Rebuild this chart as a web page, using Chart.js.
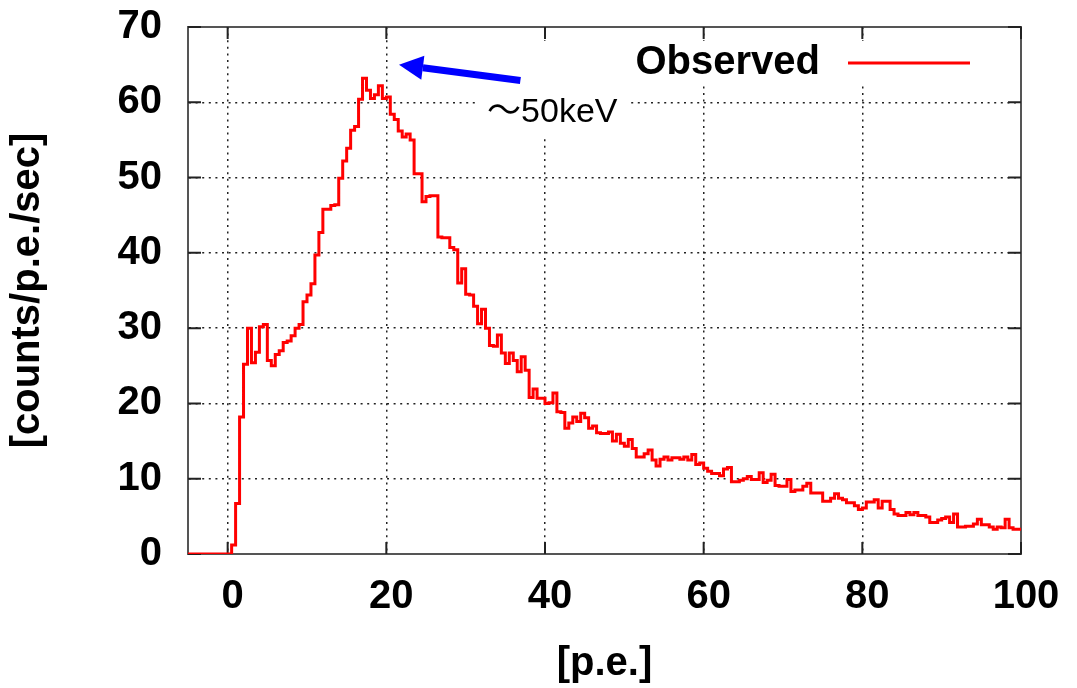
<!DOCTYPE html>
<html>
<head>
<meta charset="utf-8">
<script src="https://cdn.jsdelivr.net/npm/chart.js@4.4.0/dist/chart.umd.min.js"></script>
<style>
  body { margin: 0; background: #fff; }
</style>
</head>
<body>
<canvas id="spectrum" width="1077" height="688"></canvas>
<script>
// histogram bins are 0.5 p.e. wide, the first one starts at -5
const binStart = -5
const binWidth = 0.5
const counts = [
  // -5.0 .. -0.5
  0, 0, 0, 0, 0, 0, 0, 0, 0, 0,
  // 0.0 .. 4.5
  0, 1.2, 6.7, 18.2, 25.2, 30.0, 25.4, 26.8, 30.2, 30.5,
  // 5.0 .. 9.5
  25.7, 25.0, 26.5, 27.0, 28.1, 28.3, 29.0, 30.0, 30.5, 33.5,
  // 10.0 .. 14.5
  34.4, 35.9, 39.7, 42.7, 45.8, 45.8, 46.3, 46.4, 49.9, 52.2,
  // 15.0 .. 19.5
  53.9, 56.3, 56.8, 60.4, 63.2, 61.6, 60.5, 61.0, 62.2, 60.5,
  // 20.0 .. 24.5
  60.7, 58.4, 57.7, 56.2, 55.4, 55.8, 55.0, 50.5, 50.5, 46.8,
  // 25.0 .. 29.5
  47.5, 47.6, 47.6, 42.1, 42.0, 42.0, 40.7, 40.4, 36.0, 37.9,
  // 30.0 .. 34.5
  34.5, 34.4, 32.9, 30.6, 32.5, 30.0, 27.7, 27.6, 29.1, 26.7,
  // 35.0 .. 39.5
  25.3, 26.7, 25.7, 24.2, 26.2, 24.4, 20.8, 21.9, 20.7, 20.7,
  // 40.0 .. 44.5
  20.0, 20.1, 21.4, 18.9, 18.8, 16.7, 17.4, 18.2, 17.6, 18.7,
  // 45.0 .. 49.5
  18.1, 16.7, 17.0, 16.1, 16.0, 16.0, 16.2, 15.0, 15.9, 14.7,
  // 50.0 .. 54.5
  14.3, 15.2, 14.0, 12.9, 12.9, 13.3, 13.8, 12.5, 11.7, 12.6,
  // 55.0 .. 59.5
  12.9, 12.5, 12.8, 12.8, 12.6, 12.9, 12.5, 13.2, 11.9, 12.1,
  // 60.0 .. 64.5
  11.4, 11.0, 10.7, 10.7, 10.4, 11.3, 11.5, 9.6, 9.6, 9.8,
  // 65.0 .. 69.5
  10.0, 10.3, 9.9, 9.9, 10.8, 9.5, 9.8, 10.6, 9.1, 9.0,
  // 70.0 .. 74.5
  9.0, 9.9, 8.3, 8.5, 8.5, 9.0, 9.4, 8.1, 8.1, 8.1,
  // 75.0 .. 79.5
  7.0, 7.0, 7.4, 8.0, 7.4, 7.2, 6.8, 6.8, 6.4, 5.9,
  // 80.0 .. 84.5
  6.1, 6.9, 6.9, 7.2, 6.1, 7.0, 7.0, 5.9, 5.3, 5.1,
  // 85.0 .. 89.5
  5.1, 5.5, 5.2, 5.5, 5.1, 5.1, 4.9, 4.2, 4.2, 4.5,
  // 90.0 .. 94.5
  4.7, 4.9, 4.2, 5.3, 3.6, 3.6, 3.7, 3.7, 4.0, 4.6,
  // 95.0 .. 99.5
  3.9, 3.9, 3.6, 3.3, 3.6, 3.5, 4.6, 3.5, 3.3, 3.3
]
const xTicks = [0, 20, 40, 60, 80, 100]
const yTicks = [0, 10, 20, 30, 40, 50, 60, 70]

// the "~50keV" arrow, in data units
const arrowFrom = { x: 36.9, y: 62.9 }
const arrowTo = { x: 21.6, y: 65.0 }
const peakLabel = { text: '～50keV', x: 32.7, y: 58.6 }

const points = counts.map((c, i) => ({ x: binStart + i * binWidth, y: c }))
points.push({ x: binStart + counts.length * binWidth, y: counts[counts.length - 1] })

const boldFont = { family: '"Liberation Sans", Arial, sans-serif', size: 40, weight: 'bold', lineHeight: 1.2 }

const decorations = {
  id: 'decorations',
  beforeDatasetsDraw(chart) {
    const { ctx, chartArea: a, scales: { x, y } } = chart
    ctx.save()
    // opaque key and label boxes hide the grid dots behind them
    ctx.fillStyle = '#fff'
    ctx.fillRect(a.right - 391, a.top + 14, 355, 44)
    ctx.fillRect(x.getPixelForValue(31.5), a.top + 14, 152, 97)

    // frame on all four sides
    ctx.strokeStyle = '#555'
    ctx.lineWidth = 2
    ctx.strokeRect(a.left, a.top, a.right - a.left, a.bottom - a.top)

    // tick marks pointing inward
    ctx.beginPath()
    xTicks.forEach(v => {
      const px = x.getPixelForValue(v)
      ctx.moveTo(px, a.bottom); ctx.lineTo(px, a.bottom - 12)
      ctx.moveTo(px, a.top); ctx.lineTo(px, a.top + 12)
    })
    yTicks.forEach(v => {
      const py = y.getPixelForValue(v)
      ctx.moveTo(a.left, py); ctx.lineTo(a.left + 13, py)
      ctx.moveTo(a.right, py); ctx.lineTo(a.right - 13, py)
    })
    ctx.strokeStyle = '#222'
    ctx.stroke()
    ctx.restore()
  },
  afterDraw(chart) {
    const { ctx, chartArea: a, scales: { x, y } } = chart
    const ds = chart.data.datasets[0]
    ctx.save()

    // key: label first, sample line after it
    const keyY = a.top + 36
    ctx.font = 'bold 40px "Liberation Sans", Arial, sans-serif'
    ctx.fillStyle = '#000'
    ctx.textAlign = 'right'
    ctx.textBaseline = 'middle'
    ctx.fillText(ds.label, a.right - 201, keyY)
    ctx.strokeStyle = ds.borderColor
    ctx.lineWidth = 3
    ctx.beginPath()
    ctx.moveTo(a.right - 173, keyY)
    ctx.lineTo(a.right - 51, keyY)
    ctx.stroke()

    // arrow pointing at the peak
    const x0 = x.getPixelForValue(arrowFrom.x), y0 = y.getPixelForValue(arrowFrom.y)
    const x1 = x.getPixelForValue(arrowTo.x), y1 = y.getPixelForValue(arrowTo.y)
    const ang = Math.atan2(y1 - y0, x1 - x0)
    const headLen = 24, headHalf = 12
    const bx = x1 - headLen * Math.cos(ang), by = y1 - headLen * Math.sin(ang)
    ctx.strokeStyle = '#0000ff'
    ctx.fillStyle = '#0000ff'
    ctx.lineWidth = 7
    ctx.beginPath()
    ctx.moveTo(x0, y0)
    ctx.lineTo(bx, by)
    ctx.stroke()
    ctx.beginPath()
    ctx.moveTo(x1, y1)
    ctx.lineTo(bx + headHalf * Math.sin(ang), by - headHalf * Math.cos(ang))
    ctx.lineTo(bx - headHalf * Math.sin(ang), by + headHalf * Math.cos(ang))
    ctx.closePath()
    ctx.fill()

    ctx.font = '34px "Liberation Sans", "Noto Sans CJK JP", sans-serif'
    ctx.fillStyle = '#000'
    ctx.textAlign = 'left'
    ctx.textBaseline = 'middle'
    ctx.fillText(peakLabel.text, x.getPixelForValue(peakLabel.x), y.getPixelForValue(peakLabel.y))
    ctx.restore()
  }
}

new Chart(document.getElementById('spectrum').getContext('2d'), {
  type: 'line',
  data: {
    datasets: [{
      label: 'Observed',
      data: points,
      borderColor: '#ff0000',
      borderWidth: 3,
      pointRadius: 0,
      stepped: true,
      fill: false
    }]
  },
  options: {
    responsive: false,
    animation: false,
    layout: { padding: { top: 27, right: 56, left: 0, bottom: 0 } },
    plugins: { legend: { display: false }, tooltip: { enabled: false } },
    scales: {
      x: {
        type: 'linear',
        min: -5,
        max: 100,
        afterBuildTicks: axis => { axis.ticks = xTicks.map(v => ({ value: v })) },
        afterFit: axis => { axis.height = 134 },
        grid: { color: '#222', lineWidth: 1.5, drawTicks: false },
        border: { color: '#555', width: 2, dash: [2, 4.6] },
        ticks: { color: '#000', font: boldFont, padding: 19, labelOffset: 5, maxRotation: 0, autoSkip: false },
        title: { display: true, text: '[p.e.]', color: '#000', font: boldFont, padding: { top: 0, bottom: 0 } }
      },
      y: {
        type: 'linear',
        min: 0,
        max: 70,
        afterBuildTicks: axis => { axis.ticks = yTicks.map(v => ({ value: v })) },
        afterFit: axis => {
          axis.width = 188
          // labels at 0 and 70 need no extra room above/below the plot
          axis.paddingTop = 0
          axis.paddingBottom = 0
        },
        grid: { color: '#222', lineWidth: 1.5, drawTicks: false },
        border: { color: '#555', width: 2, dash: [2, 4.6] },
        ticks: { color: '#000', font: boldFont, padding: 26 },
        title: { display: true, text: '[counts/p.e./sec]', color: '#000', font: boldFont, padding: { top: 4, bottom: 0 } }
      }
    }
  },
  plugins: [decorations]
})
</script>
</body>
</html>
